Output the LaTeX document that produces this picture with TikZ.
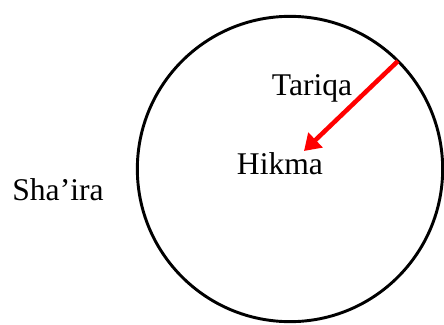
\documentclass[tikz,border=0pt]{standalone}
\usepackage{fontspec}
\setmainfont{Liberation Serif}
\usetikzlibrary{arrows.meta}

\begin{document}
\begin{tikzpicture}[
			x=0.75pt, y=-0.75pt,
			ring/.style={draw, circle, line width=2.2pt, minimum size=229pt, inner sep=0pt, outer sep=0pt},
			word/.style={font=\fontsize{23.7}{28}\selectfont, inner sep=0pt},
			arrow/.style={-{Triangle[length=12pt, width=15pt]}, red, line width=3.4pt}
			]
			\useasboundingbox (0,0) rectangle (444,325);
			\node[ring] (circ) at (290,169) {};
			\node[word] (tariqa) at (312,88) {Tariqa};
			\node[word] (hikma) at (280,164) {Hikma};
			\node[word] (shaira) at (58,190) {Sha’ira};
			\coordinate (tip) at (304,151);
			\draw[arrow] (circ.45.8) -- (tip);
		\end{tikzpicture}
\end{document}
